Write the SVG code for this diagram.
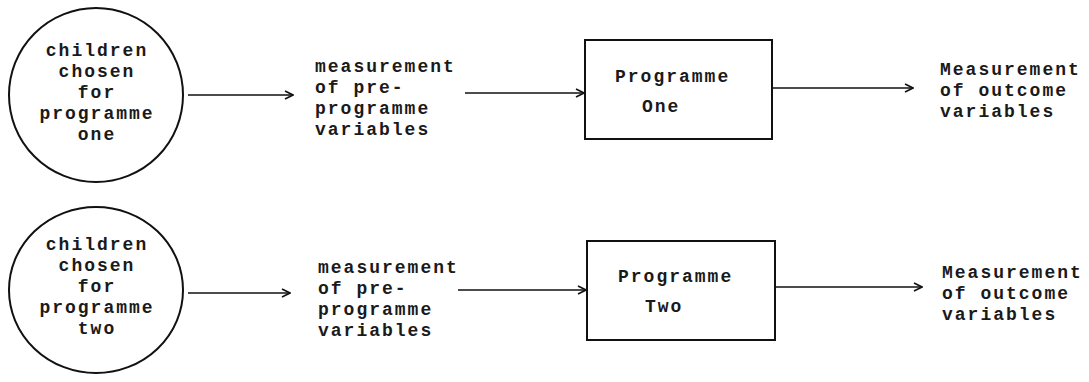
<svg xmlns="http://www.w3.org/2000/svg" width="1089" height="382" viewBox="0 0 1089 382">
  <style>
    .shape { fill: none; stroke: #111; stroke-width: 2; }
    .edge { fill: none; stroke: #111; stroke-width: 1.6; marker-end: url(#chev); }
    text { font-family: "Liberation Mono", "Courier New", monospace; font-size: 18px; font-weight: bold; fill: #1a1a1a; letter-spacing: 2px; }
    .mid { text-anchor: middle; }
  </style>
  <defs>
    <marker id="chev" viewBox="0 0 10 10" refX="9" refY="5" markerWidth="10" markerHeight="10" markerUnits="userSpaceOnUse" orient="auto">
      <path d="M1,1 L9,5 L1,9" fill="none" stroke="#111" stroke-width="1.6"/>
    </marker>
  </defs>
  <rect width="1089" height="382" fill="#fff"/>

  <!-- first group -->
  <g id="children-one">
    <circle class="shape" cx="96" cy="95" r="87"/>
    <text class="mid" x="97" y="56">children</text>
    <text class="mid" x="97" y="77">chosen</text>
    <text class="mid" x="97" y="98">for</text>
    <text class="mid" x="97" y="119">programme</text>
    <text class="mid" x="97" y="140">one</text>
  </g>
  <g id="pre-one">
    <text x="315" y="72">measurement</text>
    <text x="315" y="93">of pre-</text>
    <text x="315" y="114">programme</text>
    <text x="315" y="135">variables</text>
  </g>
  <g id="programme-one">
    <rect class="shape" x="585" y="40" width="187" height="99"/>
    <text x="615" y="82">Programme</text>
    <text x="642" y="112">One</text>
  </g>
  <g id="outcome-one">
    <text x="940" y="75">Measurement</text>
    <text x="940" y="96">of outcome</text>
    <text x="940" y="117">variables</text>
  </g>

  <!-- second group -->
  <g id="children-two">
    <ellipse class="shape" cx="96" cy="290" rx="87" ry="83"/>
    <text class="mid" x="97" y="250">children</text>
    <text class="mid" x="97" y="271">chosen</text>
    <text class="mid" x="97" y="292">for</text>
    <text class="mid" x="97" y="313">programme</text>
    <text class="mid" x="97" y="334">two</text>
  </g>
  <g id="pre-two">
    <text x="318" y="273">measurement</text>
    <text x="318" y="294">of pre-</text>
    <text x="318" y="315">programme</text>
    <text x="318" y="336">variables</text>
  </g>
  <g id="programme-two">
    <rect class="shape" x="587" y="241" width="188" height="99"/>
    <text x="618" y="282">Programme</text>
    <text x="645" y="312">Two</text>
  </g>
  <g id="outcome-two">
    <text x="942" y="278">Measurement</text>
    <text x="942" y="299">of outcome</text>
    <text x="942" y="320">variables</text>
  </g>

  <g id="connectors">
    <line class="edge" x1="188" y1="95" x2="293" y2="95"/>
    <line class="edge" x1="465" y1="93" x2="584" y2="93"/>
    <line class="edge" x1="772" y1="88" x2="913" y2="88"/>
    <line class="edge" x1="188" y1="293" x2="290" y2="293"/>
    <line class="edge" x1="458" y1="290" x2="586" y2="290"/>
    <line class="edge" x1="775" y1="287" x2="922" y2="287"/>
  </g>
</svg>
